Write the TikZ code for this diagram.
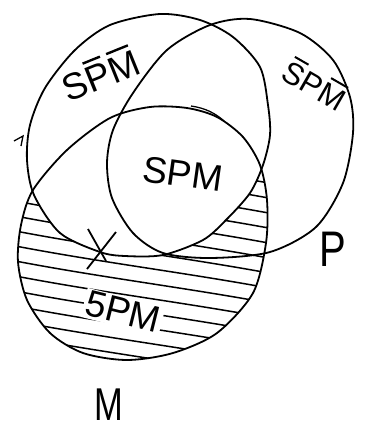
\documentclass[tikz,border=0pt]{standalone}
\usepackage{fontspec}
\setmainfont{Liberation Sans}
\newsavebox\obbox
\newcommand\ob[1]{\sbox\obbox{#1}\rlap{\hspace{0.12\wd\obbox}\smash{\raisebox{\dimexpr\ht\obbox+0.12em\relax}{\rule{0.76\wd\obbox}{0.065em}}}}\usebox\obbox}
\begin{document}
\begin{tikzpicture}[x=1pt,y=-1pt,
  outline/.style={line width=1.8pt,line join=round},
  hatch/.style={line width=1.5pt},
  lbl/.style={inner sep=0pt}]
\useasboundingbox (0,0) rectangle (366,440);
\fill[white] (0,0) rectangle (366,440);
\def\Spath{plot[smooth cycle] coordinates {(160,14) (200,20) (233,37) (260,67) (268,105) (270,135) (263,165) (250,193) (226,220) (203,240) (163,255) (125,256) (100,252) (60,233) (34,195) (27,160) (30,125) (45,88) (75,50) (110,25)}}
\def\Ppath{plot[smooth cycle] coordinates {(250,19) (300,33) (333,60) (350,97) (353,133) (343,183) (316,227) (270,252) (210,258) (163,253) (133,233) (112,198) (107,163) (113,130) (133,93) (167,50) (210,25)}}
\def\Mpath{plot[smooth cycle] coordinates {(150,107) (187,108) (217,117) (243,137) (260,165) (267,200) (266,243) (253,293) (217,333) (173,353) (127,360) (83,353) (50,333) (27,300) (18,262) (21,225) (33,190) (67,150) (110,118)}}
% hatching of M outside S
\begin{scope}
  \clip \Mpath;
  \foreach \y in {138,153,...,348} {
    \draw[hatch] (0,\y) .. controls (100,\y+20) and (200,\y+31) .. (300,\y+51);
  }
\end{scope}
\fill[white] \Spath;
% circles
\draw[outline] \Spath;
\draw[outline] \Ppath;
\draw[outline] \Mpath;
% small pen marks
\draw[line width=1.3pt] (191,106) .. controls (205,108) and (215,113) .. (224,121);
\draw[line width=1.3pt] (14,141) -- (23,136) -- (21,146);
% X mark
\draw[line width=1.8pt] (88,229) -- (106,261);
\draw[line width=1.8pt] (116,232) -- (87,269);
% labels
\node[lbl,font=\fontsize{37}{40}\selectfont,rotate=22] (tl) at (101,76) {S\ob{P}\ob{M}};
\node[lbl,font=\fontsize{31}{34}\selectfont,rotate=-30] (tr) at (314,86) {\ob{S}P\ob{M}};
\node[lbl,font=\fontsize{37}{40}\selectfont,rotate=-8] (c) at (183,174) {SPM};
\node[lbl,font=\fontsize{37}{40}\selectfont,rotate=-14,fill=white,inner sep=2pt] (b) at (123,312) {5PM};
\node[lbl,font=\fontsize{46}{48}\selectfont,xscale=0.75] (lm) at (109,405) {M};
\node[lbl,font=\fontsize{50}{52}\selectfont,xscale=0.8] (lp) at (333,249) {P};
\end{tikzpicture}
\end{document}
